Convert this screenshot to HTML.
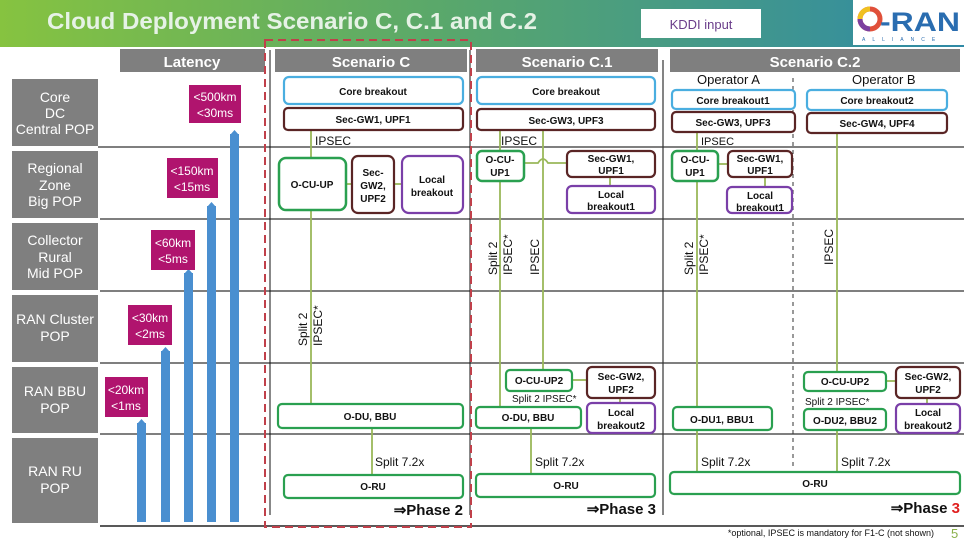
<!DOCTYPE html>
<html><head><meta charset="utf-8"><style>
html,body{margin:0;padding:0;background:#fff;}
svg{display:block;font-family:"Liberation Sans",Arial,sans-serif;}
</style></head><body>
<svg width="964" height="540" viewBox="0 0 964 540" xmlns="http://www.w3.org/2000/svg">
<defs>
<linearGradient id="hg" x1="0" x2="1" y1="0" y2="0">
<stop offset="0" stop-color="#86c340"/><stop offset="0.45" stop-color="#5aa86a"/><stop offset="1" stop-color="#2f8aa6"/>
</linearGradient>
</defs>
<rect x="0" y="0" width="964" height="540" fill="#fff"/>
<rect x="0" y="0" width="964" height="47" fill="url(#hg)"/>
<text x="47" y="29" font-size="23" font-weight="bold" fill="#e6f2e6" textLength="490" lengthAdjust="spacingAndGlyphs">Cloud Deployment Scenario C, C.1 and C.2</text>
<rect x="641" y="9" width="120" height="29" fill="#fff"/>
<text x="701" y="29" font-size="13" fill="#6a3d8a" text-anchor="middle">KDDI input</text>
<rect x="853" y="0" width="111" height="45" fill="#fff"/>
<circle cx="870" cy="19" r="10" fill="none" stroke="#e0503a" stroke-width="5"/>
<path d="M860 19 A10 10 0 0 1 870 9" fill="none" stroke="#f0c020" stroke-width="5"/>
<path d="M870 29 A10 10 0 0 1 860 19" fill="none" stroke="#7b3fa0" stroke-width="5"/>
<text x="880" y="31" font-size="27" font-weight="bold" fill="#2a6db0" textLength="80" lengthAdjust="spacingAndGlyphs">-RAN</text>
<text x="862" y="41" font-size="5" fill="#2a6db0" letter-spacing="7">ALLIANCE</text>

<!-- row labels -->
<g fill="#7f7f7f">
<rect x="12" y="79" width="86" height="67"/>
<rect x="12" y="151" width="86" height="67"/>
<rect x="12" y="223" width="86" height="67"/>
<rect x="12" y="295" width="86" height="67"/>
<rect x="12" y="367" width="86" height="66"/>
<rect x="12" y="438" width="86" height="85"/>
</g>
<g fill="#fff" font-size="14" text-anchor="middle">
<text x="55" y="102">Core</text><text x="55" y="118">DC</text><text x="55" y="134">Central POP</text>
<text x="55" y="173">Regional</text><text x="55" y="190">Zone</text><text x="55" y="206">Big POP</text>
<text x="55" y="245">Collector</text><text x="55" y="262">Rural</text><text x="55" y="278">Mid POP</text>
<text x="55" y="324">RAN Cluster</text><text x="55" y="341">POP</text>
<text x="55" y="396">RAN BBU</text><text x="55" y="413">POP</text>
<text x="55" y="476">RAN RU</text><text x="55" y="493">POP</text>
</g>

<!-- horizontal lines -->
<g stroke="#555" stroke-width="1.5">
<line x1="98" y1="147" x2="964" y2="147"/>
<line x1="100" y1="219" x2="964" y2="219"/>
<line x1="100" y1="291" x2="964" y2="291"/>
<line x1="100" y1="363" x2="964" y2="363"/>
<line x1="100" y1="434" x2="964" y2="434"/>
<line x1="100" y1="526" x2="964" y2="526" stroke="#222"/>
</g>

<!-- column headers -->
<g fill="#7f7f7f">
<rect x="120" y="49" width="145" height="23"/>
<rect x="275" y="49" width="192" height="23"/>
<rect x="476" y="49" width="182" height="23"/>
<rect x="670" y="49" width="290" height="23"/>
</g>
<g fill="#fff" font-size="15" font-weight="bold" text-anchor="middle">
<text x="192" y="67">Latency</text><text x="371" y="67">Scenario C</text>
<text x="567" y="67">Scenario C.1</text><text x="815" y="67">Scenario C.2</text>
</g>

<!-- vertical lines -->
<line x1="270" y1="50" x2="270" y2="515" stroke="#111" stroke-width="1"/>
<line x1="470" y1="50" x2="470" y2="515" stroke="#111" stroke-width="1"/>
<line x1="663" y1="60" x2="663" y2="515" stroke="#333" stroke-width="1.2"/>
<line x1="793" y1="78" x2="793" y2="470" stroke="#333" stroke-width="1" stroke-dasharray="4,4"/>
<rect x="265" y="40" width="206" height="487" fill="none" stroke="#c0404a" stroke-width="2" stroke-dasharray="8,5"/>

<!-- latency bars -->
<g fill="#4a8fd0">
<rect x="137" y="423" width="9" height="99"/><polygon points="137,424 141.5,419 146,424"/>
<rect x="161" y="351" width="9" height="171"/><polygon points="161,352 165.5,347 170,352"/>
<rect x="184" y="273" width="9" height="249"/><polygon points="184,274 188.5,269 193,274"/>
<rect x="207" y="206" width="9" height="316"/><polygon points="207,207 211.5,202 216,207"/>
<rect x="230" y="134" width="9" height="388"/><polygon points="230,135 234.5,130 239,135"/>
</g>
<g fill="#b0146e">
<rect x="189" y="85" width="52" height="38"/>
<rect x="167" y="158" width="51" height="40"/>
<rect x="151" y="230" width="44" height="40"/>
<rect x="128" y="305" width="44" height="40"/>
<rect x="105" y="377" width="43" height="40"/>
</g>
<g fill="#fff" font-size="12" text-anchor="middle">
<text x="215" y="101">&lt;500km</text><text x="215" y="117">&lt;30ms</text>
<text x="192" y="175">&lt;150km</text><text x="192" y="191">&lt;15ms</text>
<text x="173" y="247">&lt;60km</text><text x="173" y="263">&lt;5ms</text>
<text x="150" y="322">&lt;30km</text><text x="150" y="338">&lt;2ms</text>
<text x="126" y="394">&lt;20km</text><text x="126" y="410">&lt;1ms</text>
</g>

<!-- connector lines -->
<g stroke="#9ab85a" stroke-width="1.8" fill="none">
<line x1="311" y1="130" x2="311" y2="158"/>
<line x1="311" y1="210" x2="311" y2="404"/>
<line x1="346" y1="184" x2="352" y2="184"/><line x1="394" y1="184" x2="402" y2="184"/>
<line x1="372" y1="428" x2="372" y2="475"/>
<line x1="500" y1="130" x2="500" y2="151"/>
<line x1="500" y1="181" x2="500" y2="407"/>
<line x1="543" y1="130" x2="543" y2="370"/>
<path d="M524 163 L538 163 Q543 155 548 163 L567 163"/>
<line x1="610" y1="177" x2="610" y2="186"/>
<line x1="572" y1="380" x2="587" y2="380"/>
<line x1="620" y1="398" x2="620" y2="403"/>
<line x1="531" y1="428" x2="531" y2="474"/>
<line x1="697" y1="132" x2="697" y2="151"/>
<line x1="697" y1="181" x2="697" y2="407"/>
<line x1="718" y1="164" x2="728" y2="164"/>
<line x1="765" y1="177" x2="765" y2="187"/>
<line x1="697" y1="430" x2="697" y2="472"/>
<line x1="837" y1="133" x2="837" y2="372"/>
<line x1="837" y1="430" x2="837" y2="472"/>
<line x1="886" y1="381" x2="896" y2="381"/>
<line x1="927" y1="398" x2="927" y2="404"/>
</g>

<!-- boxes -->
<g fill="#fff" stroke-width="2.2">
<rect x="284" y="77" width="179" height="27" rx="5" stroke="#4aaee0"/>
<rect x="284" y="108" width="179" height="22" rx="4" stroke="#5a2525"/>
<rect x="279" y="158" width="67" height="52" rx="7" stroke="#2aa050" stroke-width="2.5"/>
<rect x="352" y="156" width="42" height="57" rx="6" stroke="#5a2525"/>
<rect x="402" y="156" width="61" height="57" rx="7" stroke="#7a3fa8"/>
<rect x="278" y="404" width="185" height="24" rx="4" stroke="#2aa050"/>
<rect x="284" y="475" width="179" height="23" rx="4" stroke="#2aa050"/>

<rect x="477" y="77" width="178" height="27" rx="5" stroke="#4aaee0"/>
<rect x="477" y="109" width="178" height="21" rx="4" stroke="#5a2525"/>
<rect x="477" y="151" width="47" height="30" rx="5" stroke="#2aa050" stroke-width="2.5"/>
<rect x="567" y="151" width="88" height="26" rx="5" stroke="#5a2525"/>
<rect x="567" y="186" width="88" height="27" rx="5" stroke="#7a3fa8"/>
<rect x="506" y="370" width="66" height="21" rx="4" stroke="#2aa050"/>
<rect x="587" y="367" width="68" height="31" rx="5" stroke="#5a2525"/>
<rect x="476" y="407" width="105" height="21" rx="4" stroke="#2aa050"/>
<rect x="587" y="403" width="68" height="30" rx="5" stroke="#7a3fa8"/>
<rect x="476" y="474" width="179" height="23" rx="4" stroke="#2aa050"/>

<rect x="672" y="90" width="123" height="19" rx="4" stroke="#4aaee0"/>
<rect x="807" y="90" width="140" height="20" rx="4" stroke="#4aaee0"/>
<rect x="672" y="112" width="123" height="20" rx="4" stroke="#5a2525"/>
<rect x="807" y="113" width="140" height="20" rx="4" stroke="#5a2525"/>
<rect x="672" y="151" width="46" height="30" rx="5" stroke="#2aa050" stroke-width="2.5"/>
<rect x="728" y="151" width="64" height="26" rx="5" stroke="#5a2525"/>
<rect x="727" y="187" width="65" height="26" rx="5" stroke="#7a3fa8"/>
<rect x="673" y="407" width="99" height="23" rx="4" stroke="#2aa050"/>
<rect x="804" y="372" width="82" height="19" rx="4" stroke="#2aa050"/>
<rect x="896" y="367" width="64" height="31" rx="5" stroke="#5a2525"/>
<rect x="804" y="409" width="82" height="21" rx="4" stroke="#2aa050"/>
<rect x="896" y="404" width="64" height="29" rx="5" stroke="#7a3fa8"/>
<rect x="670" y="472" width="290" height="22" rx="4" stroke="#2aa050"/>
</g>

<!-- box text -->
<g font-size="10" font-weight="bold" fill="#111" text-anchor="middle">
<text x="373" y="95">Core breakout</text>
<text x="373" y="123">Sec-GW1, UPF1</text>
<text x="312" y="188">O-CU-UP</text>
<text x="373" y="176">Sec-</text><text x="373" y="189">GW2,</text><text x="373" y="202">UPF2</text>
<text x="432" y="183">Local</text><text x="432" y="196">breakout</text>
<text x="370" y="420">O-DU, BBU</text>
<text x="373" y="490">O-RU</text>

<text x="566" y="95">Core breakout</text>
<text x="566" y="124">Sec-GW3, UPF3</text>
<text x="500" y="163">O-CU-</text><text x="500" y="176">UP1</text>
<text x="611" y="162">Sec-GW1,</text><text x="611" y="174">UPF1</text>
<text x="611" y="198">Local</text><text x="611" y="210">breakout1</text>
<text x="539" y="384">O-CU-UP2</text>
<text x="621" y="380">Sec-GW2,</text><text x="621" y="393">UPF2</text>
<text x="528" y="421">O-DU, BBU</text>
<text x="621" y="416">Local</text><text x="621" y="429">breakout2</text>
<text x="566" y="489">O-RU</text>

<text x="733" y="104">Core breakout1</text>
<text x="877" y="104">Core breakout2</text>
<text x="733" y="126">Sec-GW3, UPF3</text>
<text x="877" y="127">Sec-GW4, UPF4</text>
<text x="695" y="163">O-CU-</text><text x="695" y="176">UP1</text>
<text x="760" y="162">Sec-GW1,</text><text x="760" y="174">UPF1</text>
<text x="760" y="199">Local</text><text x="760" y="211">breakout1</text>
<text x="722" y="423">O-DU1, BBU1</text>
<text x="845" y="385">O-CU-UP2</text>
<text x="928" y="380">Sec-GW2,</text><text x="928" y="393">UPF2</text>
<text x="845" y="424">O-DU2, BBU2</text>
<text x="928" y="416">Local</text><text x="928" y="429">breakout2</text>
<text x="815" y="487">O-RU</text>
</g>

<!-- labels -->
<g font-size="12" fill="#111">
<text x="315" y="145">IPSEC</text>
<text x="501" y="145">IPSEC</text>
<text x="701" y="145" font-size="11">IPSEC</text>
<text x="375" y="466">Split 7.2x</text>
<text x="535" y="466">Split 7.2x</text>
<text x="701" y="466">Split 7.2x</text>
<text x="841" y="466">Split 7.2x</text>
<text x="697" y="84" font-size="13">Operator A</text>
<text x="852" y="84" font-size="13">Operator B</text>
<text x="512" y="402" font-size="10">Split 2 IPSEC*</text>
<text x="805" y="405" font-size="10">Split 2 IPSEC*</text>
<text transform="translate(307,346) rotate(-90)">Split 2</text>
<text transform="translate(322,346) rotate(-90)">IPSEC*</text>
<text transform="translate(497,275) rotate(-90)">Split 2</text>
<text transform="translate(512,275) rotate(-90)">IPSEC*</text>
<text transform="translate(539,275) rotate(-90)">IPSEC</text>
<text transform="translate(693,275) rotate(-90)">Split 2</text>
<text transform="translate(708,275) rotate(-90)">IPSEC*</text>
<text transform="translate(833,265) rotate(-90)">IPSEC</text>
</g>
<g font-size="15" font-weight="bold" fill="#111" text-anchor="end">
<text x="463" y="515">⇒Phase 2</text>
<text x="656" y="514">⇒Phase 3</text>
<text x="960" y="513">⇒Phase <tspan fill="#e02020">3</tspan></text>
</g>
<text x="934" y="536" font-size="9" fill="#111" text-anchor="end">*optional, IPSEC is mandatory for F1-C (not shown)</text>
<text x="951" y="538" font-size="13" fill="#8ab04a">5</text>
</svg>
</body></html>
